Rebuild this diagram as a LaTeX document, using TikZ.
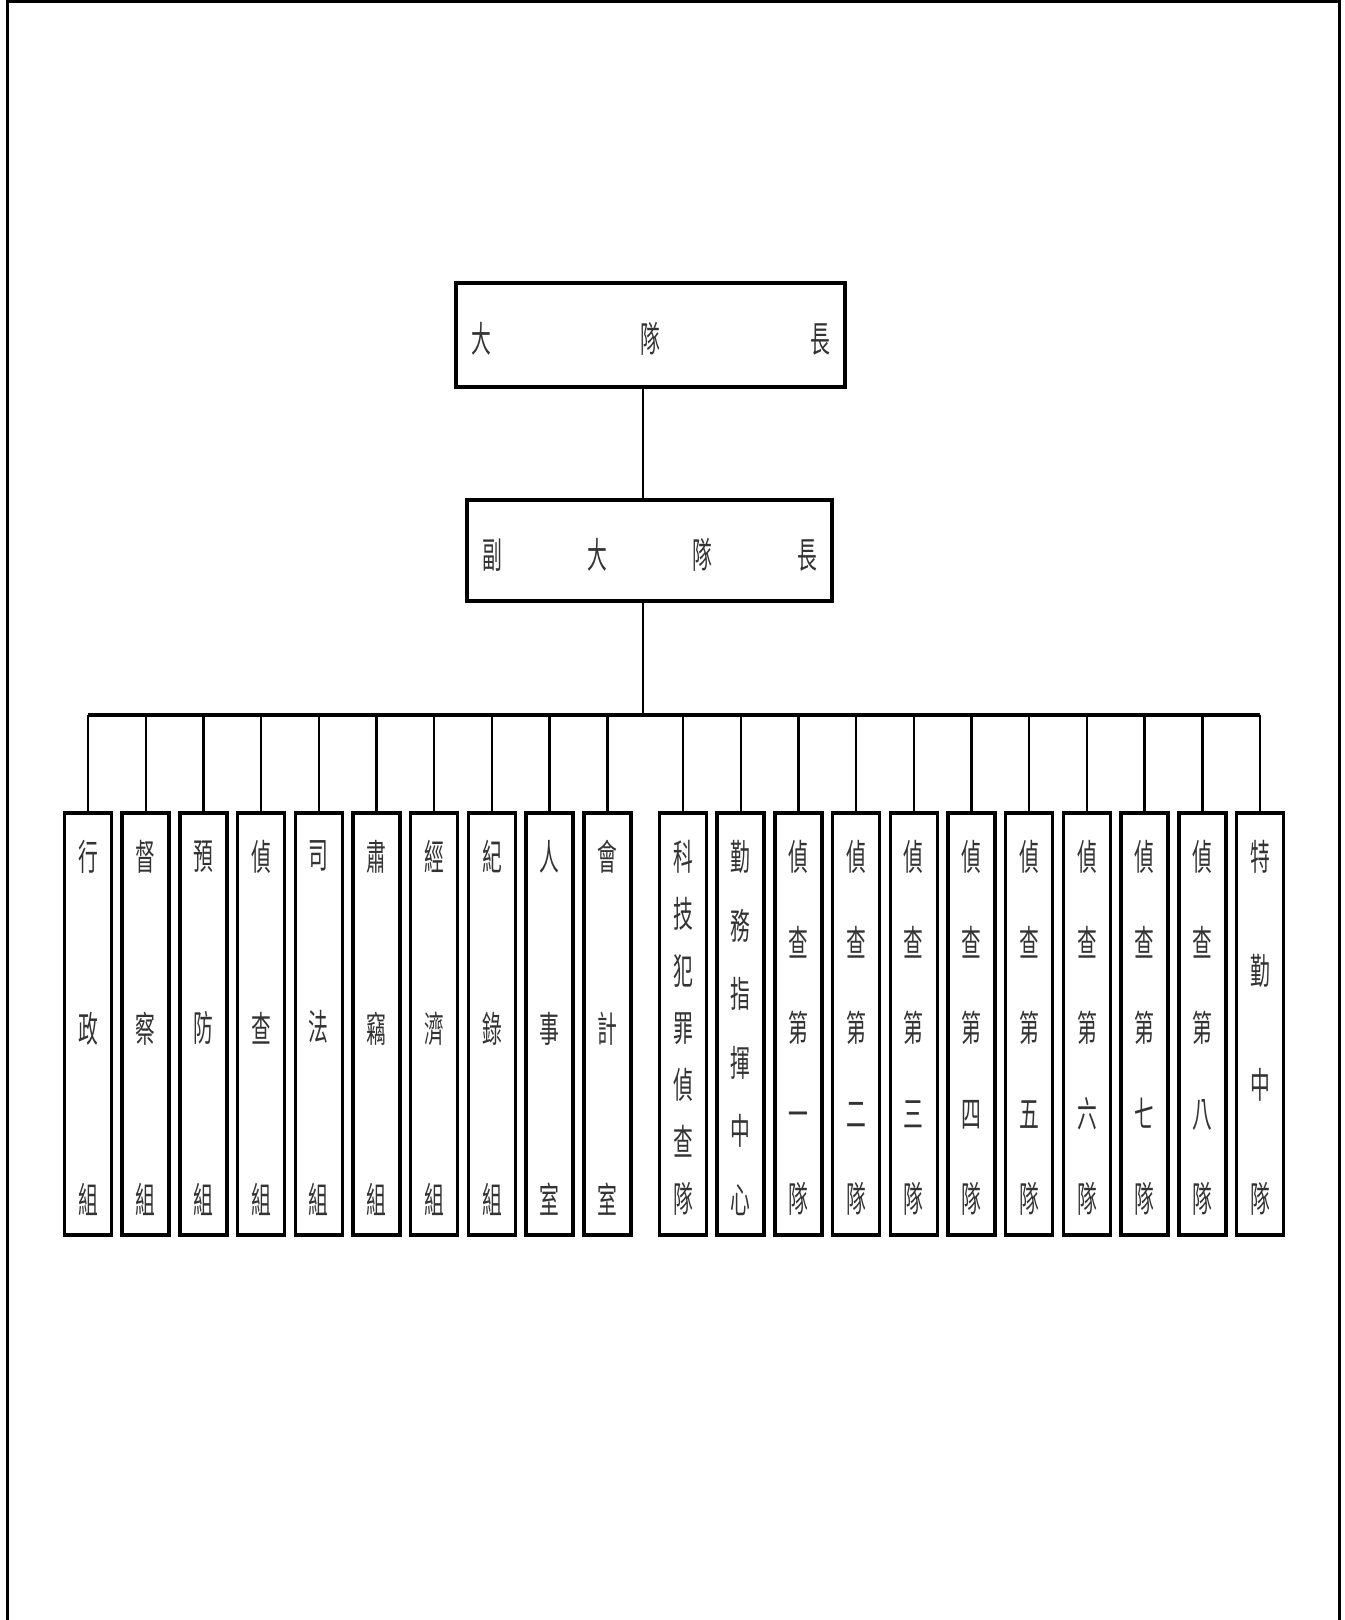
\documentclass[tikz,border=0pt]{standalone}
\usepackage{fontspec}
\newfontfamily\cjk[FakeStretch=0.55]{Noto Sans CJK TC}
\usetikzlibrary{positioning}

% spread characters along a row / down a column
\newcommand\spreadrow[2]{\raisebox{-2pt}[\height][\depth]{\hbox to #1{\foreach \ch [count=\k] in {#2}{\ifnum\k>1 \hfill\fi\ch}}}}
\newcommand\spreadcol[2]{\raisebox{-2pt}[\height][\depth]{\parbox[c][#1][t]{20pt}{\centering\foreach \ch [count=\k] in #2{\ifnum\k>1 \par\vfill\fi\ch}}}}

\begin{document}
\begin{tikzpicture}[x=0.5pt, y=-0.5pt,
    box/.style={draw, line width=1.75pt, inner sep=0pt, text=black!80, font={\cjk\fontsize{18pt}{18pt}\selectfont}},
    leaf/.style={box, minimum width=23.5pt, minimum height=211pt},
    link/.style={line width=1.2pt}]
    \useasboundingbox (0,0) rectangle (1344,1620);

    % page frame
    \draw[line width=1.5pt] (7,1620) -- (7,2) -- (1339,2) -- (1339,1620);

    % heads
    \node[box, minimum width=194.5pt, minimum height=52pt] (chief) at (650.5,335) {\spreadrow{179.5pt}{大,隊,長}};
    \node[box, minimum width=182.5pt, minimum height=50.5pt] (deputy) at (649.5,550.5) {\spreadrow{167.5pt}{副,大,隊,長}};

    % trunk
    \coordinate (bus) at (643,715);
    \draw[link] (chief.south -| bus) -- (deputy.north -| bus);
    \draw[link] (deputy.south -| bus) -- (bus);

    % groups and offices
    \foreach \names [count=\i from 0] in {{行,政,組},{督,察,組},{預,防,組},{偵,查,組},{司,法,組},{肅,竊,組},{經,濟,組},{紀,錄,組},{人,事,室},{會,計,室}} {
        \node[leaf] (g\i) at (88+57.7*\i,1024) {\spreadcol{187.5pt}{\names}};
        \draw[link] (g\i.north) -- (g\i.north |- bus);
    }

    % brigades
    \foreach \names [count=\j from 0] in {{科,技,犯,罪,偵,查,隊},{勤,務,指,揮,中,心},{偵,查,第,一,隊},{偵,查,第,二,隊},{偵,查,第,三,隊},{偵,查,第,四,隊},{偵,查,第,五,隊},{偵,查,第,六,隊},{偵,查,第,七,隊},{偵,查,第,八,隊},{特,勤,中,隊}} {
        \node[leaf] (h\j) at (683+57.7*\j,1024) {\spreadcol{187.5pt}{\names}};
        \draw[link] (h\j.north) -- (h\j.north |- bus);
    }

    % bus bar
    \draw[line width=2pt] (g0.north |- bus) -- (h10.north |- bus);
\end{tikzpicture}
\end{document}
